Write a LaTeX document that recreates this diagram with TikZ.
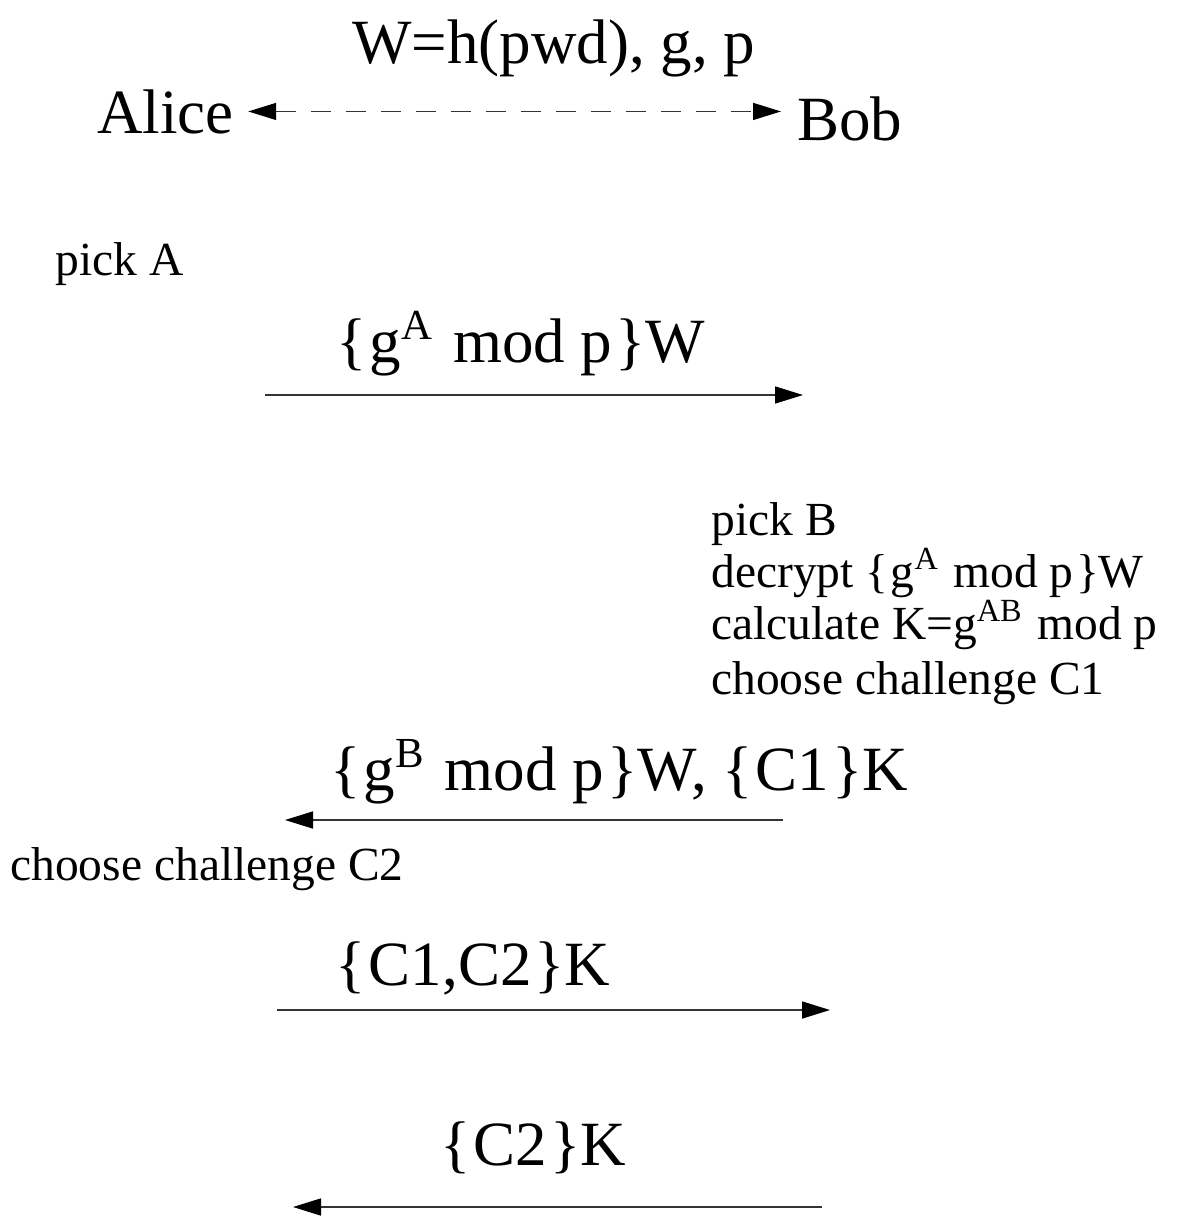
\documentclass[tikz,border=0pt]{standalone}
\usepackage{fontspec}
\setmainfont{Liberation Serif}
\usetikzlibrary{arrows.meta}
% raised, reduced exponent for g^X
\newcommand\supx[1]{\raisebox{0.36em}{\scalebox{0.68}{#1}}\kern0.08em\relax}
% thin gap inside the braces
\newcommand\bk{\kern0.05em\relax}

\begin{document}
\begin{tikzpicture}[x=0.5pt,y=-0.5pt,
  big/.style={inner sep=0pt, anchor=base west, font=\fontsize{31.5}{36}\selectfont},
  small/.style={inner sep=0pt, anchor=base west, font=\fontsize{23.75}{26}\selectfont},
  tip/.tip={Triangle[length=14pt,width=8.5pt,color=black]},
  msg/.style={-tip, line width=0.8pt, draw=black!80},
  shared/.style={tip-tip, line width=0.7pt, draw=black!80, dash pattern=on 10pt off 7.5pt},
  ]
\useasboundingbox (0,0) rectangle (1178,1221);

% shared secret between the parties
\node[big] (title) at (352,63) {W=h(pwd), g, p};
\node[big] (alice) at (97,133) {Alice};
\node[big] (bob)   at (797,140) {Bob};
\draw[shared, shorten <=7pt, shorten >=8pt] (alice.east) -- (alice.east -| bob.west);

% message 1: Alice -> Bob
\node[small] (pickA) at (55,275) {pick A};
\node[big] (m1) at (336,362) {\{\bk g\supx{A} mod p\bk\}W};
\coordinate (m1s) at (265,395);
\coordinate (m1e) at (803,395);
\draw[msg] (m1s) -- (m1e);

% Bob's computation
\node[small] (b1) at (711,535) {pick B};
\node[small] (b2) at (711,587) {decrypt \{\bk g\supx{A} mod p\bk\}W};
\node[small] (b3) at (711,639) {calculate K=g\supx{AB} mod p};
\node[small] (b4) at (711,694) {choose challenge C1};

% message 2: Bob -> Alice
\node[big] (m2) at (330,790) {\{\bk g\supx{B} mod p\bk\}W, \{\bk C1\bk\}K};
\coordinate (m2s) at (783,820);
\coordinate (m2e) at (285,820);
\draw[msg] (m2s) -- (m2e);

% message 3: Alice -> Bob
\node[small] (a2) at (10,880) {choose challenge C2};
\node[big] (m3) at (335,985) {\{\bk C1,C2\bk\}K};
\coordinate (m3s) at (277,1010);
\coordinate (m3e) at (830,1010);
\draw[msg] (m3s) -- (m3e);

% message 4: Bob -> Alice
\node[big] (m4) at (440,1165) {\{\bk C2\bk\}K};
\coordinate (m4s) at (822,1207);
\coordinate (m4e) at (293,1207);
\draw[msg] (m4s) -- (m4e);
\end{tikzpicture}
\end{document}
